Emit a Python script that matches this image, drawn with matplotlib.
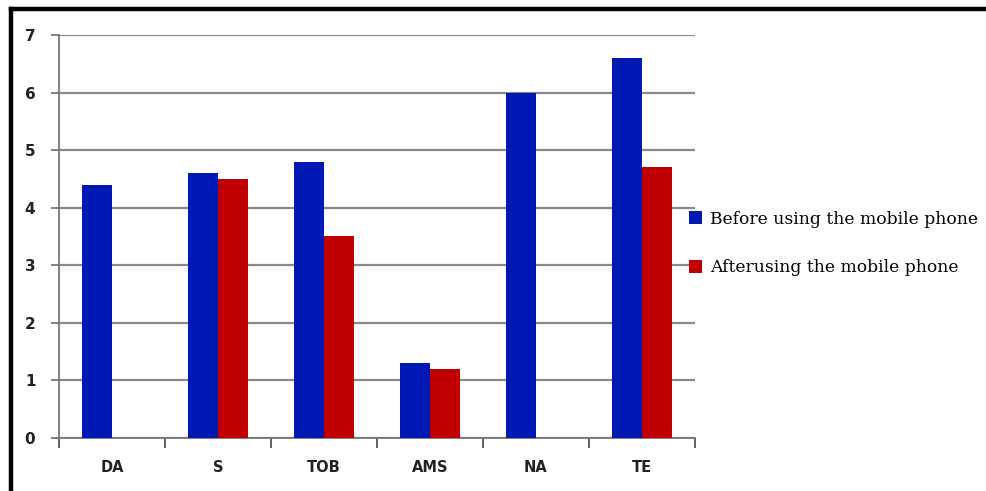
import matplotlib
matplotlib.use("Agg")
import matplotlib.pyplot as plt
import numpy as np
from matplotlib.patches import Patch
from matplotlib.lines import Line2D

categories = ["DA", "S", "TOB", "AMS", "NA", "TE"]
before = [4.4, 4.6, 4.8, 1.3, 6.0, 6.6]
after = [0, 4.5, 3.5, 1.2, 0, 4.7]

blue = "#0019B4"
red = "#C00000"
grid_gray = "#8a8a8a"

fig = plt.figure(figsize=(9.86, 4.91), dpi=100)
ax = fig.add_axes([0.0598, 0.108, 0.645, 0.8208])

x = np.arange(len(categories))
w = 0.283
ax.bar(x - w / 2, before, w, color=blue, zorder=3, label="Before using the mobile phone")
ax.bar(x + w / 2, after, w, color=red, zorder=3, label="Afterusing the mobile phone")

ax.set_xlim(-0.5, len(categories) - 0.5)
ax.set_ylim(0, 7)
ax.set_yticks(range(8))
ax.yaxis.grid(True, color=grid_gray, linewidth=1.6, zorder=0)

for s in ["top", "right"]:
    ax.spines[s].set_visible(False)
for s in ["left", "bottom"]:
    ax.spines[s].set_color("#777777")
    ax.spines[s].set_linewidth(1.3)

# category labels centred, ticks on the group boundaries
ax.set_xticks(x)
ax.set_xticklabels(categories)
ax.tick_params(axis="x", length=0, pad=16, labelsize=10.5)
ax.set_xticks(np.arange(-0.5, len(categories)), minor=True)
ax.tick_params(axis="x", which="minor", length=7, width=1.3, color="#555555", direction="out")
ax.tick_params(axis="y", length=6, width=1.3, color="#777777", labelsize=11, pad=11)
for lab in ax.get_xticklabels() + ax.get_yticklabels():
    lab.set_fontweight("bold")
    lab.set_color("#222222")

handles = [Patch(facecolor=blue), Patch(facecolor=red)]
fig.legend(handles, ["Before using the mobile phone", "Afterusing the mobile phone"],
           loc="upper left", bbox_to_anchor=(0.692, 0.585), frameon=False,
           prop={"family": "DejaVu Serif", "size": 12.3},
           handlelength=0.75, handleheight=0.75, handletextpad=0.5,
           labelspacing=1.85, borderaxespad=0)

# black frame along top and left edges
fig.add_artist(Line2D([0.0115, 1.0], [0.981, 0.981], transform=fig.transFigure,
                      color="black", linewidth=3.2))
fig.add_artist(Line2D([0.0115, 0.0115], [0.0, 0.981], transform=fig.transFigure,
                      color="black", linewidth=3.2))

fig.savefig("out.png", dpi=100)
